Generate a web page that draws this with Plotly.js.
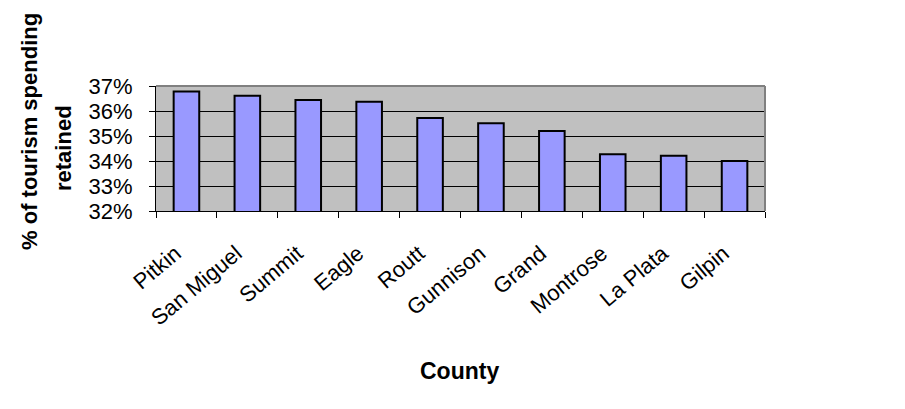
<!DOCTYPE html>
<html>
<head>
<meta charset="utf-8">
<script src="https://cdn.plot.ly/plotly-3.0.1.min.js"></script>
<style>html,body{margin:0;padding:0;background:#fff;}#chart{width:905px;height:409px;}</style>
</head>
<body>
<div id="chart"></div>
<script>
var counties = ["Pitkin", "San Miguel", "Summit", "Eagle", "Routt", "Gunnison", "Grand", "Montrose", "La Plata", "Gilpin"];
var retained = [36.78, 36.61, 36.44, 36.37, 35.72, 35.51, 35.2, 34.27, 34.21, 34.0];
var yTickVals = [32, 33, 34, 35, 36, 37];
var yTickText = ["32%", "33%", "34%", "35%", "36%", "37%"];
var yTitleLines = ["% of tourism spending", "retained"];
var xTitle = "County";

var F = "Liberation Sans, Arial, sans-serif";

var trace = {
  type: "bar",
  x: counties,
  y: retained,
  width: 0.42,
  marker: {color: "#9999FF", line: {color: "#000000", width: 2}},
  hoverinfo: "x+y"
};

var layout = {
  width: 905, height: 409,
  margin: {l: 156, r: 140, t: 86, b: 198},
  paper_bgcolor: "#ffffff",
  plot_bgcolor: "#C0C0C0",
  showlegend: false,
  font: {family: F, color: "#000000", size: 22},
  xaxis: {
    type: "category",
    tickangle: -40,
    tickson: "boundaries",
    ticks: "outside", ticklen: 6, tickcolor: "#000", tickwidth: 1,
    showline: true, linecolor: "#000", linewidth: 1,
    showgrid: false,
    tickfont: {family: F, size: 22, color: "#000"},
    ticklabelstandoff: 20,
    ticklabelshift: -11
  },
  yaxis: {
    range: [32, 37],
    tickvals: yTickVals,
    ticktext: yTickText,
    ticks: "outside", ticklen: 6, tickcolor: "#000", tickwidth: 1,
    showline: true, linecolor: "#000", linewidth: 1,
    showgrid: true, gridcolor: "#000000", gridwidth: 1,
    zeroline: false,
    tickfont: {family: F, size: 22, color: "#000"},
    ticklabelstandoff: 12
  },
  shapes: [
    {type: "line", xref: "paper", yref: "paper", x0: 0, x1: 1, y0: 1, y1: 1, line: {color: "#808080", width: 2}},
    {type: "line", xref: "paper", yref: "paper", x0: 1, x1: 1, y0: 0, y1: 1, line: {color: "#808080", width: 2}}
  ],
  annotations: [
    {text: "<b>" + yTitleLines[0] + "</b>", xref: "paper", yref: "paper", x: -0.2086, y: 0.64, xanchor: "center", yanchor: "middle", textangle: -90, showarrow: false, font: {family: F, size: 22, color: "#000"}},
    {text: "<b>" + yTitleLines[1] + "</b>", xref: "paper", yref: "paper", x: -0.1527, y: 0.504, xanchor: "center", yanchor: "middle", textangle: -90, showarrow: false, font: {family: F, size: 22, color: "#000"}},
    {text: "<b>" + xTitle + "</b>", xref: "paper", yref: "paper", x: 0.499, y: -1.28, xanchor: "center", yanchor: "middle", showarrow: false, font: {family: F, size: 23, color: "#000"}}
  ]
};

Plotly.newPlot("chart", [trace], layout, {displayModeBar: false, staticPlot: true});
</script>
</body>
</html>
